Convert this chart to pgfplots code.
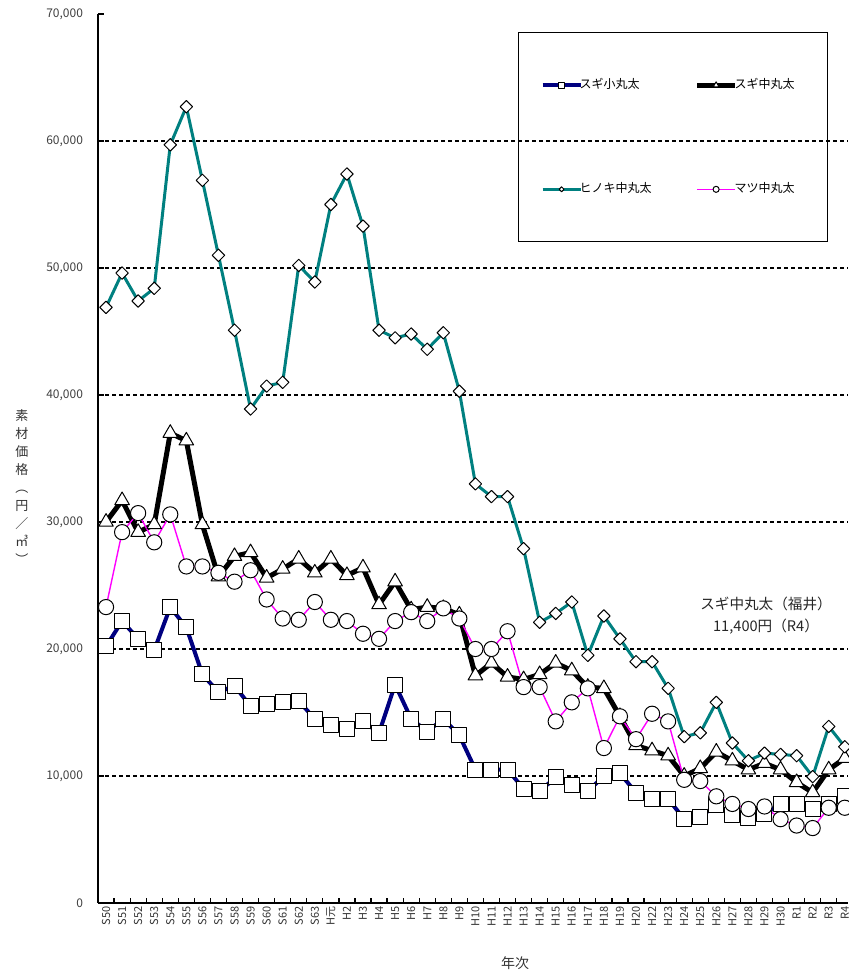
\documentclass[border=0pt]{standalone}
\usepackage{pgfplots}
\pgfplotsset{compat=1.18}
\usepackage{pgfplotstable}
\usepackage{fontspec}
\setmainfont{Noto Sans CJK JP}

\definecolor{sugis}{HTML}{000080}
\definecolor{hinoki}{HTML}{008080}
\definecolor{matsu}{HTML}{FF00FF}

% i: category index (S50 ... R4, no H21)
\pgfplotstableread{
i  sugis  sugim  hinoki  matsu
0  20200  30000  46900  23300
1  22200  31700  49600  29200
2  20800  29200  47400  30700
3  19900  29800  48400  28400
4  23300  37000  59700  30600
5  21700  36400  62700  26500
6  18000  29800  56900  26500
7  16600  25700  51000  26000
8  17100  27300  45100  25300
9  15500  27600  38900  26200
10 15700  25600  40700  23900
11 15800  26300  41000  22400
12 15900  27100  50200  22300
13 14500  26000  48900  23700
14 14000  27100  55000  22300
15 13700  25800  57400  22200
16 14300  26400  53300  21200
17 13400  23500  45100  20800
18 17200  25300  44500  22200
19 14500  23100  44800  22900
20 13500  23300  43600  22200
21 14500  23200  44900  23200
22 13200  22700  40300  22400
23 10500  17900  33000  20000
24 10500  18900  32000  20000
25 10500  17800  32000  21400
26  9000  17600  27900  17000
27  8800  18000  22100  17000
28  9900  18900  22800  14300
29  9300  18300  23700  15800
30  8800  17000  19500  16900
31 10000  16900  22600  12200
32 10200  14700  20800  14700
33  8700  12400  19000  12900
34  8200  12000  19000  14900
35  8200  11600  16900  14300
36  6600  10000  13100   9700
37  6800  10600  13400   9600
38  7700  11900  15800   8400
39  6900  11200  12600   7800
40  6700  10500  11200   7400
41  7000  11000  11800   7600
42  7800  10500  11700   6600
43  7800   9500  11600   6100
44  7400   8700   9950   5900
45  7800  10500  13900   7500
46  8400  11400  12300   7500
}\prices

\begin{document}
\begin{tikzpicture}
\begin{axis}[
  at={(0,0)}, anchor=south west,
  scale only axis, width=375pt, height=444.5pt,
  xmin=-0.5, xmax=46.2, ymin=0, ymax=70000,
  axis x line*=bottom, axis y line*=left,
  axis line style={line width=1pt, black},
  tick align=inside,
  major tick length=3pt, minor tick length=2.5pt,
  xtick={0,...,46},
  xticklabels={S50,S51,S52,S53,S54,S55,S56,S57,S58,S59,S60,S61,S62,S63,
    H元,H2,H3,H4,H5,H6,H7,H8,H9,H10,H11,H12,H13,H14,H15,H16,H17,H18,H19,H20,
    H22,H23,H24,H25,H26,H27,H28,H29,H30,R1,R2,R3,R4},
  major x tick style={draw=none},
  minor xtick={-0.5,0.5,...,46.5},
  minor x tick style={black, line width=0.6pt},
  xticklabel style={rotate=90, anchor=east, font=\fontsize{5.5}{6}\selectfont,
    text=black!80, inner sep=1.5pt},
  ytick={0,10000,...,70000},
  y tick style={black, line width=0.6pt},
  scaled y ticks=false,
  yticklabel style={font=\fontsize{6}{7}\selectfont, text=black!75, xshift=-4pt,
    /pgf/number format/.cd, fixed, 1000 sep={,}, assume math mode=true},
  extra y ticks={10000,20000,30000,40000,50000,60000},
  extra y tick labels={},
  extra y tick style={grid=major, major tick length=0pt},
  grid style={black, line width=0.6pt, dash pattern=on 2pt off 1.5pt},
  legend columns=2,
  legend cell align=left,
  legend style={at={(0.56,0.9798)}, anchor=north west, draw=black,
    line width=0.6pt, fill=none, font=\fontsize{6}{7}\selectfont,
    inner xsep=11pt, inner ysep=21pt, row sep=41.5pt,
    /tikz/every even column/.append style={column sep=22pt}},
  legend image code/.code={\draw[mark repeat=2,mark phase=2,#1]
    plot coordinates {(0pt,0pt) (9.5pt,0pt) (19pt,0pt)};},
  legend image post style={/tikz/every mark/.append style={scale=0.4}},
]
\addplot[sugis, line width=2pt, line join=round, mark=square*, mark size=3.75pt,
  mark options={solid, fill=white, draw=black, line width=0.5pt}]
  table[x=i, y=sugis] {\prices};
\addlegendentry{\makebox[30pt][l]{\hspace*{-3.5pt}スギ小丸太}}
\addplot[black, line width=2.5pt, line join=round, mark=triangle*, mark size=4.2pt,
  mark options={solid, fill=white, draw=black, line width=0.5pt}]
  table[x=i, y=sugim] {\prices};
\addlegendentry{\makebox[30pt][l]{\hspace*{-3.5pt}スギ中丸太}}
\addplot[hinoki, line width=1.5pt, line join=round, mark=square*, mark size=2.2pt,
  mark options={solid, fill=white, draw=black, line width=0.5pt, rotate=45}]
  table[x=i, y=hinoki] {\prices};
\addlegendentry{\makebox[30pt][l]{\hspace*{-3.5pt}ヒノキ中丸太}}
\addplot[matsu, line width=0.7pt, line join=round, mark=*, mark size=3.8pt,
  mark options={solid, fill=white, draw=black, line width=0.5pt}]
  table[x=i, y=matsu] {\prices};
\addlegendentry{\makebox[30pt][l]{\hspace*{-3.5pt}マツ中丸太}}
\end{axis}
\node[font=\fontsize{7.3}{9}\selectfont, text=black!85] at (334pt,149.5pt) {スギ中丸太（福井）};
\node[font=\fontsize{7.3}{9}\selectfont, text=black!85] at (334pt,138pt) {11,400円（R4）};
\node[font=\fontsize{6.5}{9}\selectfont, align=center, text=black!80] at (-38pt,208pt)
  {素\\材\\価\\格\\︵\\円\\／\\㎥\\︶};
\node[font=\fontsize{7}{8}\selectfont, text=black!80] at (208.5pt,-30pt) {年次};
\pgfresetboundingbox
\path (-49pt,-35.5pt) rectangle (375pt,451.5pt);
\end{tikzpicture}
\end{document}
